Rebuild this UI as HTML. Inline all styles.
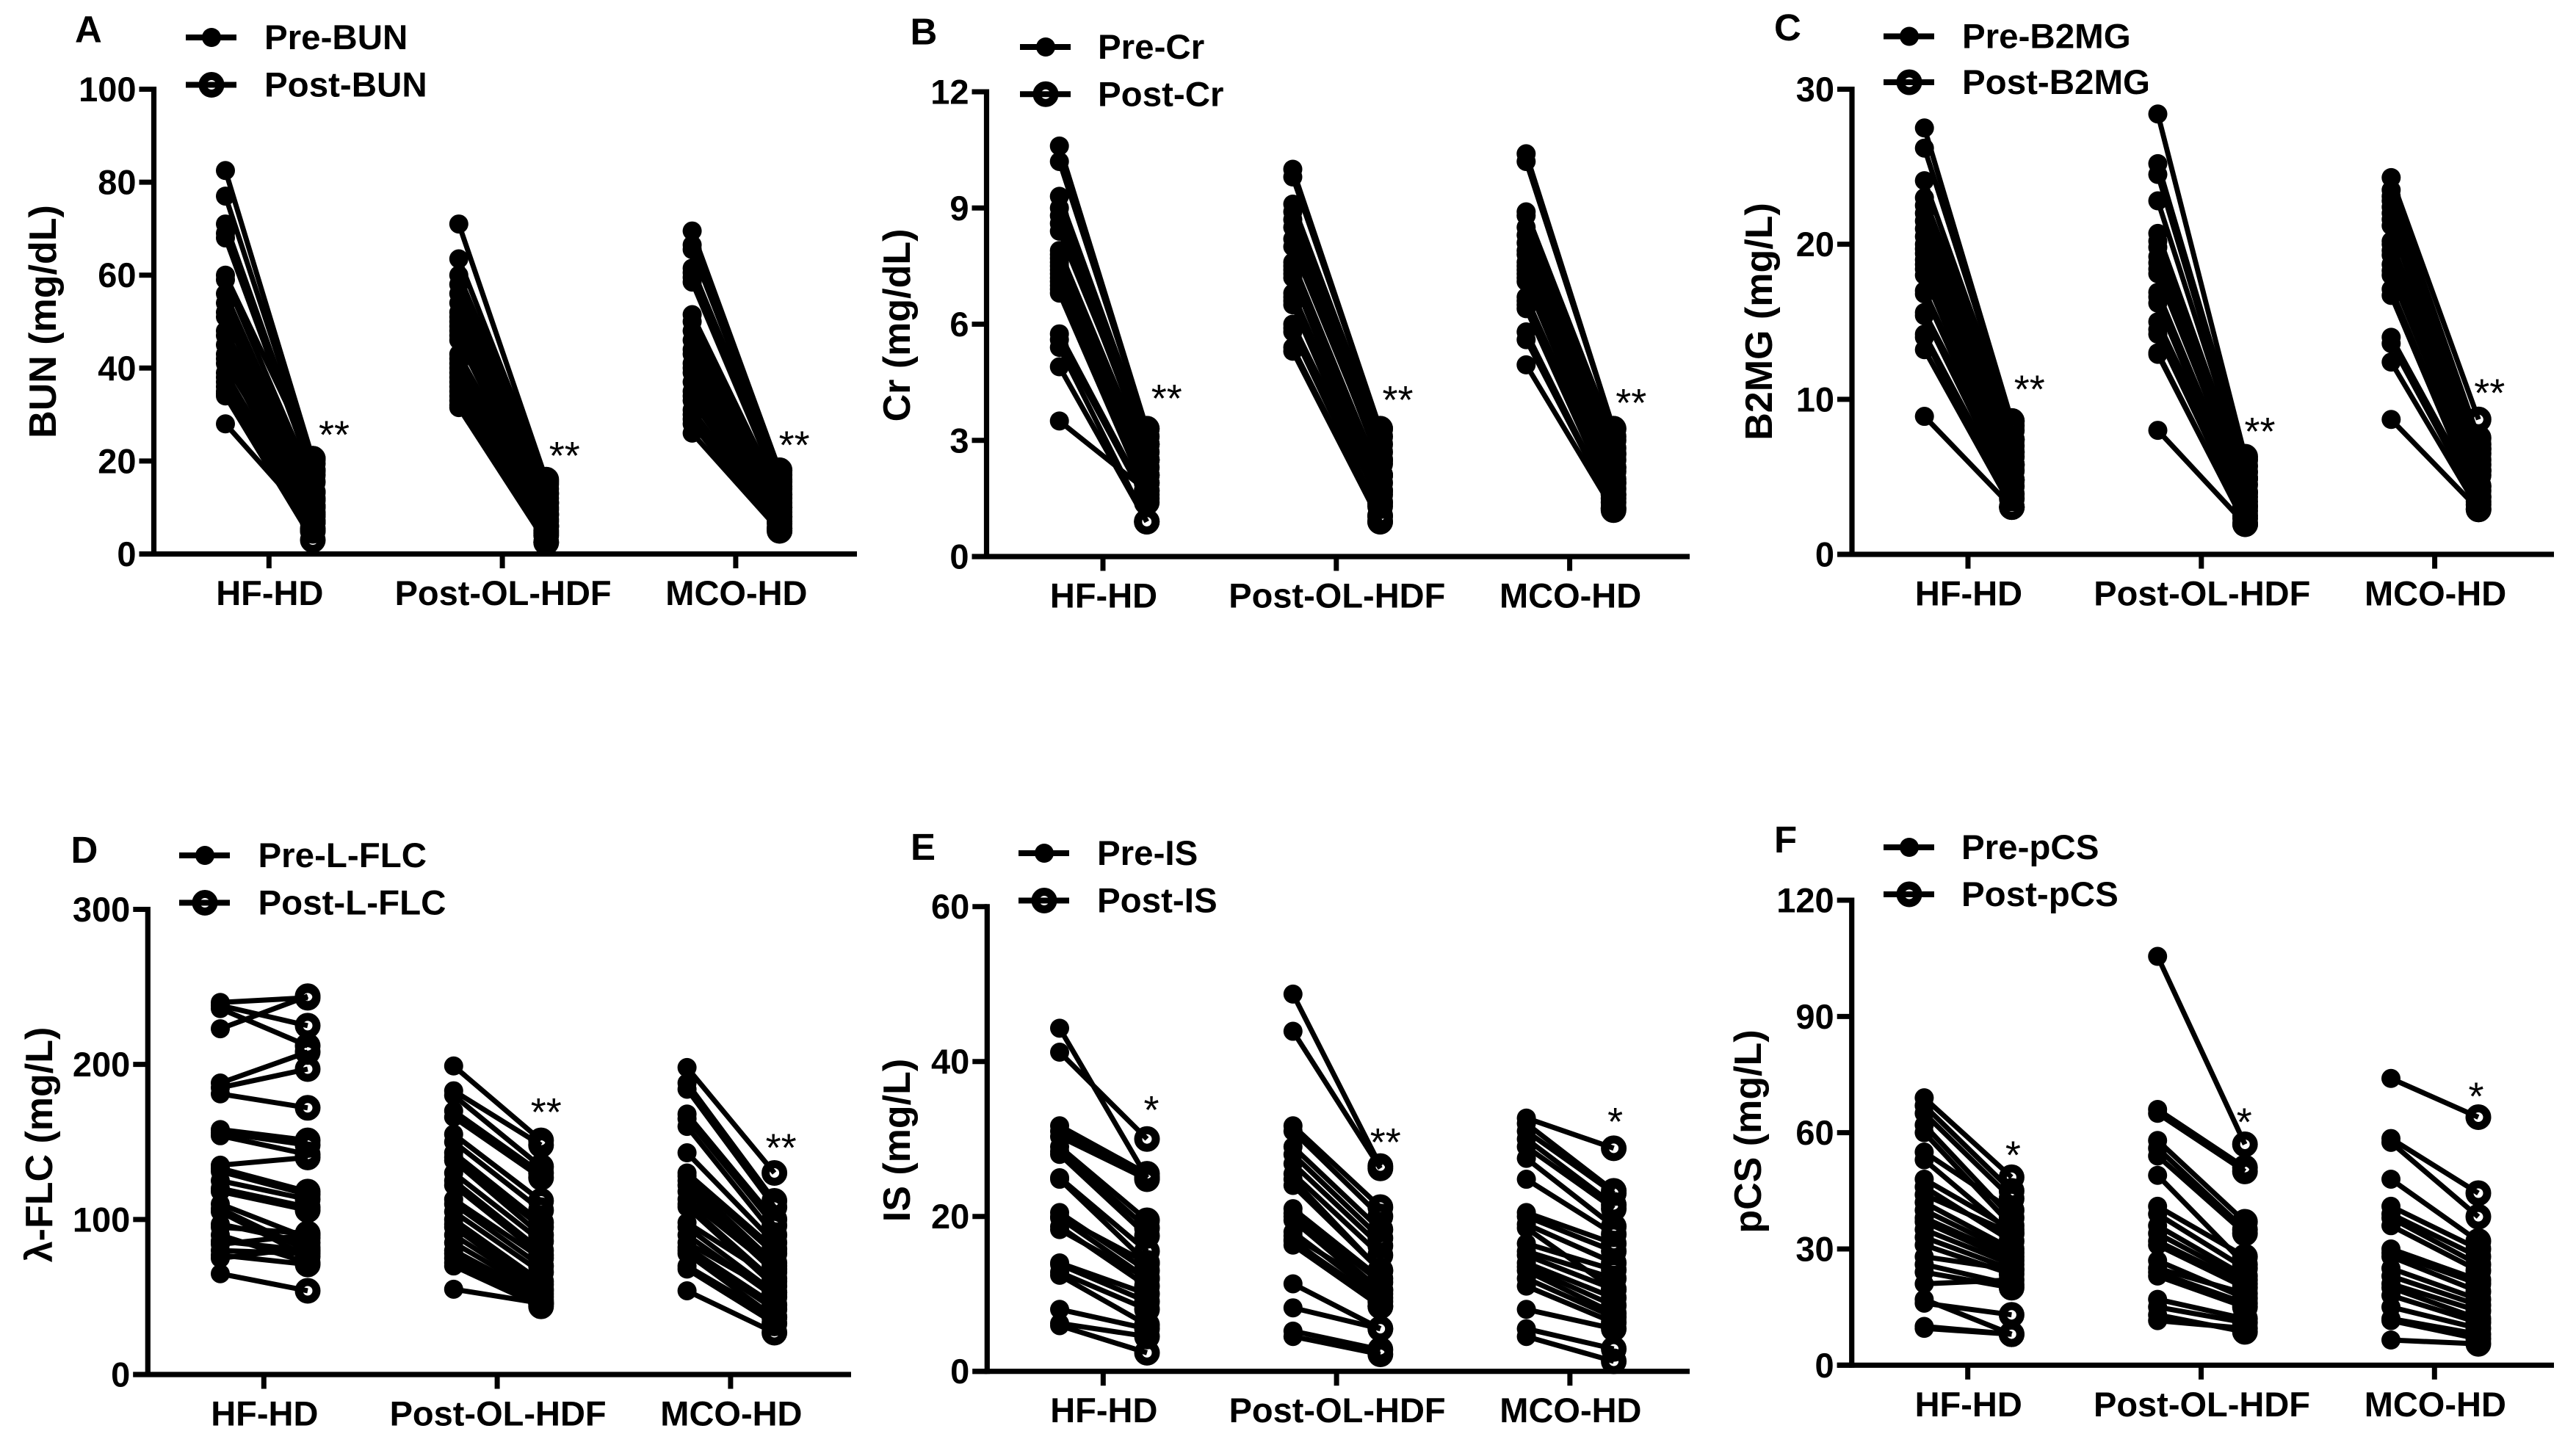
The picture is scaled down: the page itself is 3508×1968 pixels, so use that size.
<!DOCTYPE html>
<html lang="en">
<head>
<meta charset="utf-8">
<title>Pre and post dialysis solute levels</title>
<style>
html,body{margin:0;padding:0;background:#fff;}
#figure{display:block;width:3508px;height:1968px;background:#fff;}
text{font-family:"Liberation Sans",sans-serif;fill:#000;}
</style>
</head>
<body>
<svg id="figure" xmlns="http://www.w3.org/2000/svg" width="3508" height="1968" viewBox="0 0 3508 1968"></svg>
<script>
const categories = ['HF-HD', 'Post-OL-HDF', 'MCO-HD'];

const bunTicks = [0, 20, 40, 60, 80, 100];
const bunPreHF = [82.5,77,71,69,68,60,59,56,54,52,51,48,47,45,43,42,41,39,38,37,36,35,34.5,34,28];
const bunPostHF = [20.5,19.5,18,18,17,20.5,15.5,13.3,13.3,12,10.2,11.5,10.2,9,8.5,6.9,10.2,6.9,5.5,5,6.9,8,5,3,6.9];
const bunPreOL = [71,63.5,60,58,56,54,52,51,50,49,48,47,46,43,42,41,40,39,38,37,36,35,34,33,32,31.5];
const bunPostOL = [16,15.5,15,14,13,13,12,11,11,10,11,9.5,8.5,8.5,7.5,8.5,7,6,6,5,6,4.5,6,4,2.5,2.5];
const bunPreMCO = [69.5,66.5,65.5,61.5,60.5,59.5,58.5,51.5,50,48,46,44,43,41,40,39,37,35,34,33,31,30,29,28,26];
const bunPostMCO = [18,18,17,16,15.5,14.5,14,12.8,12.8,12,11,10,10,9,10,8,8,7,8,6.5,5.5,5.5,5.5,5,5];
const bunStars = ['**', '**', '**'];

const crTicks = [0, 3, 6, 9, 12];
const crPreHF = [10.6,10.2,9.3,9.0,8.8,8.6,8.4,7.9,7.8,7.7,7.6,7.5,7.4,7.3,7.2,7.1,7.0,6.9,6.8,5.75,5.6,5.4,4.9,3.5];
const crPostHF = [3.3,3.3,3.1,2.9,2.9,2.7,2.9,2.5,2.5,2.3,2.5,2.5,2.1,2.1,1.9,2.1,1.9,1.7,1.6,1.5,1.4,0.9,0.9,1.7];
const crPreOL = [10,9.8,9.1,8.9,8.7,8.5,8.2,8.0,7.6,7.5,7.4,7.3,7.2,6.8,6.7,6.6,6.5,6.0,5.9,5.8,5.4,5.3];
const crPostOL = [3.3,3.3,3.1,2.9,2.7,2.5,2.4,2.5,2.1,2.1,1.9,2.1,1.7,1.6,1.7,1.4,1.3,1.4,1.05,1.05,0.9,0.9];
const crPreMCO = [10.4,10.2,8.9,8.8,8.5,8.3,8.1,7.9,7.8,7.6,7.5,7.4,7.3,7.2,7.1,6.7,6.6,6.5,6.4,5.8,5.6,4.95];
const crPostMCO = [3.3,3.3,3.1,3.0,2.65,2.8,2.65,2.5,2.3,2.2,2.3,1.9,2.0,1.9,1.75,1.6,1.5,1.6,1.4,1.25,1.25,1.2];
const crStars = ['**', '**', '**'];

const b2mgTicks = [0, 10, 20, 30];
const b2mgPreHF = [27.5,26.2,24.1,23,22.5,22,21.5,21,20.5,20,19.7,19.4,19,18.7,18.4,18,17,16.8,15.6,15.4,14.2,14,13.2,8.9];
const b2mgPostHF = [8.6,8.6,8.3,8,7.4,7.4,7,7.4,6.6,6.3,6.6,5.8,5.8,5.4,5.8,4.8,4.8,4.4,4.8,3.9,3.6,3.05,3.05,3.05];
const b2mgPreOL = [28.4,25.2,24.5,22.8,20.7,20.2,19.8,19.2,18.8,18.4,18.1,16.9,16.6,16.2,15,14.5,14.2,13,12.9,8];
const b2mgPostOL = [6.3,6.1,5.7,5.3,4.9,4.9,4.5,4.9,4,3.7,4,3.4,3.1,2.8,3.1,2.5,2.3,1.95,1.95,1.95];
const b2mgPreMCO = [24.3,23.5,23.1,22.8,22.4,22,21.6,21.2,20.2,20,19.6,19.3,18.7,18.3,18,17.1,16.7,14,13.6,12.4,8.7];
const b2mgPostMCO = [8.7,7.5,7.1,6.8,6.5,6.8,6.1,5.8,5.4,5.4,5.1,5.4,4.4,4.1,4.4,3.7,3.4,3.7,3.2,2.9,2.9];
const b2mgStars = ['**', '**', '**'];

const flcTicks = [0, 100, 200, 300];
const flcPreHF = [240,238,236,223,188,185,181,158,156,154,135,133,131,125,120,118,110,107,105,97,95,90,86,84,80,77,75,65];
const flcPostHF = [243,225,212,244,208,197,172,151,148,142,140,118,116,113,108,106,88,80,76,85,91,72,80,90,78,71,82,54];
const flcPreOL = [199,183,180,170,166,155,150,143,140,138,130,125,122,113,110,105,100,97,95,90,85,80,78,75,72,70,55];
const flcPostOL = [151,148,134,130,127,112,106,98,95,90,86,80,77,75,70,66,60,58,55,54,52,50,48,46,46,44,46];
const flcPreMCO = [198,188,184,168,165,160,143,130,128,125,122,118,113,110,108,98,95,90,85,82,80,78,70,68,54];
const flcPostMCO = [130,112,108,100,96,90,85,81,78,72,70,66,68,60,57,62,53,50,53,45,42,37,37,33,27];
const flcStars = ['', '**', '**'];

const isTicks = [0, 20, 40, 60];
const isPreHF = [44.3,41.2,31.7,31,30.3,29,28.4,28,25,24.8,20.5,20,19.8,18.7,18.3,14,13.8,12.8,12.4,8,6.2,5.9];
const isPostHF = [25,30,25.5,25,24.8,19.5,18.5,17.5,15.5,14,13,14,12,11,12,10,9,8,6,5.5,4.5,2.4];
const isPreOL = [48.7,43.9,31.7,31,29,28,26.8,25.5,24.8,24,21,20.4,20,19.5,18,17.5,17,16.8,16.3,11.3,8.2,5.2,4.5];
const isPostOL = [26.5,26.2,21.2,20,18.3,17.2,16.2,15,13,13,12,11.5,10.5,10,9.5,10.5,8.4,9,8.4,5.5,5.5,2.8,2.2];
const isPreMCO = [32.7,32,31,30,29,27.5,24.8,20.5,20,19,18.5,16.5,15.5,15,14,13.5,13,12,11,8,5.5,4.5];
const isPostMCO = [28.8,23.3,23,21.5,21,18.7,17.7,16.5,15.5,14,10.6,13.1,12,10.6,9.5,8.5,7.5,7,6.3,5.5,2.9,1.3];
const isStars = ['*', '**', '*'];

const pcsTicks = [0, 30, 60, 90, 120];
const pcsPreHF = [69,67,65,62,60,55,53,48,46,44,42,40,38,37,35,33,31,28,26,24,21,17,16,10,9.5];
const pcsPostHF = [48.5,45,43,38,36,40,34,35,32,34,30,29,28,27,26,24.7,23.5,24.7,20.8,20,22,8,13,8,8];
const pcsPreOL = [105.5,66,65,58,56,54,49,41,39,36,34,32,31,27,25,24,23,17,15,13,11.5];
const pcsPostOL = [57,51,50,37,35,34,26,28,25,23,22,21,20,17.3,18.5,16,15,12,11,8.6,9.5];
const pcsPreMCO = [74,58.5,57.5,48,41,39,38,36,30,29,28,25,23,21,20,18,15,12,11.5,6.5];
const pcsPostMCO = [64,44.4,38.3,32,30,28,26,24.4,22,21,19,17,15.5,14,12,11,9.5,8,6.8,5.5];
const pcsStars = ['*', '*', '*'];

const panels = [
  {id:'bun', letter:'A', title:'BUN (mg/dL)', pre:'Pre-BUN', post:'Post-BUN', ticks:bunTicks, stars:bunStars,
   preData:[bunPreHF,bunPreOL,bunPreMCO], postData:[bunPostHF,bunPostOL,bunPostMCO],
   g:{axisX:209.5, top:121.5, bottom:754.5, right:1167, cat0:366.3, lx:253, ly1:51, ly2:115.5, tx:360, titleX:76, titleY:438, letterX:102, letterY:57.5, starDx:[0,-4,-9], starDy:[0,0,-2]}},
  {id:'cr', letter:'B', title:'Cr (mg/dL)', pre:'Pre-Cr', post:'Post-Cr', ticks:crTicks, stars:crStars,
   preData:[crPreHF,crPreOL,crPreMCO], postData:[crPostHF,crPostOL,crPostMCO],
   g:{axisX:1343.5, top:125, bottom:758, right:2301, cat0:1502, lx:1389, ly1:64, ly2:128.3, tx:1495, titleX:1239, titleY:443, letterX:1239.5, letterY:60.7, starDx:[-2,-5,-5], starDy:[-9,-7,-3]}},
  {id:'b2mg', letter:'C', title:'B2MG (mg/L)', pre:'Pre-B2MG', post:'Post-B2MG', ticks:b2mgTicks, stars:b2mgStars,
   preData:[b2mgPreHF,b2mgPreOL,b2mgPreMCO], postData:[b2mgPostHF,b2mgPostOL,b2mgPostMCO],
   g:{axisX:2522, top:121.5, bottom:755, right:3478, cat0:2680, lx:2565, ly1:49.5, ly2:112, tx:2672, titleX:2413, titleY:438, letterX:2416, letterY:55, starDx:[-5,-9,-14], starDy:[-11,-2,-4]}},
  {id:'flc', letter:'D', title:'\u03BB-FLC (mg/L)', pre:'Pre-L-FLC', post:'Post-L-FLC', ticks:flcTicks, stars:flcStars,
   preData:[flcPreHF,flcPreOL,flcPreMCO], postData:[flcPostHF,flcPostOL,flcPostMCO],
   g:{axisX:201.3, top:1238.5, bottom:1872, right:1159, cat0:359.3, lx:244, ly1:1165, ly2:1229.5, tx:351.5, titleX:71, titleY:1559, letterX:96.5, letterY:1175, starDx:[0,-22,-20], starDy:[0,-6,-2]}},
  {id:'is', letter:'E', title:'IS (mg/L)', pre:'Pre-IS', post:'Post-IS', ticks:isTicks, stars:isStars,
   preData:[isPreHF,isPreOL,isPreMCO], postData:[isPostHF,isPostOL,isPostMCO],
   g:{axisX:1344.3, top:1234.7, bottom:1867.7, right:2301, cat0:1502.3, lx:1387, ly1:1162, ly2:1226.5, tx:1494, titleX:1239, titleY:1553, letterX:1240, letterY:1171, starDx:[0,-22,-4], starDy:[-7,0,-4]}},
  {id:'pcs', letter:'F', title:'pCS (mg/L)', pre:'Pre-pCS', post:'Post-pCS', ticks:pcsTicks, stars:pcsStars,
   preData:[pcsPreHF,pcsPreOL,pcsPreMCO], postData:[pcsPostHF,pcsPostOL,pcsPostMCO],
   g:{axisX:2521.7, top:1226, bottom:1859.3, right:3478, cat0:2679.7, lx:2565, ly1:1154, ly2:1218, tx:2671, titleX:2398, titleY:1541, letterX:2416, letterY:1161, starDx:[-4,-7,-9], starDy:[2,2,4]}}
];

const SVGNS = 'http://www.w3.org/2000/svg';
const root = document.getElementById('figure');

function add(parent, tag, attrs, name, txt) {
  const el = document.createElementNS(SVGNS, tag);
  for (const k in attrs) el.setAttribute(k, attrs[k]);
  
  
  if (txt !== undefined) el.textContent = txt;
  parent.appendChild(el);
  return el;
}

function drawPanel(p) {
  const g = p.g;
  const group = add(root, 'g', {}, 'panel-' + p.id);
  const maxV = p.ticks[p.ticks.length - 1];
  const yScale = v => g.bottom - (v / maxV) * (g.bottom - g.top);
  const catX = i => g.cat0 + i * 317.8;
  const preX = i => catX(i) - 59.3;
  const postX = i => catX(i) + 59.7;

  add(group, 'text', {x:g.letterX, y:g.letterY, 'font-size':51, 'font-weight':'bold'}, 'panel-letter-' + p.letter.toLowerCase(), p.letter);

  p.ticks.forEach(t => {
    add(group, 'line', {x1:g.axisX - 20, x2:g.axisX, y1:yScale(t), y2:yScale(t), stroke:'#000', 'stroke-width':7}, 'y-tick-' + t);
    add(group, 'text', {x:g.axisX - 24, y:yScale(t) + 16.5, 'font-size':47, 'font-weight':'bold', 'text-anchor':'end'}, 'y-tick-label-' + t, String(t));
  });
  add(group, 'line', {x1:g.axisX, x2:g.axisX, y1:g.top - 3.5, y2:g.bottom + 3.5, stroke:'#000', 'stroke-width':7.2}, 'y-axis-line');
  add(group, 'line', {x1:g.axisX - 20, x2:g.right, y1:g.bottom, y2:g.bottom, stroke:'#000', 'stroke-width':7.2}, 'x-axis-line');

  categories.forEach((c, i) => {
    add(group, 'line', {x1:catX(i), x2:catX(i), y1:g.bottom, y2:g.bottom + 19.5, stroke:'#000', 'stroke-width':7}, 'x-tick-' + c.toLowerCase());
    add(group, 'text', {x:catX(i) + 1, y:g.bottom + 69.5, 'font-size':47, 'font-weight':'bold', 'text-anchor':'middle'}, 'x-tick-label-' + c.toLowerCase(), c);
  });

  add(group, 'text', {x:g.titleX, y:g.titleY, 'font-size':52, 'font-weight':'bold', 'text-anchor':'middle', transform:'rotate(-90 ' + g.titleX + ' ' + g.titleY + ')'}, 'y-axis-title', p.title);

  const seriesGroup = add(group, 'g', {}, 'series-paired-points');
  categories.forEach((c, i) => {
    const pre = p.preData[i];
    const post = p.postData[i];
    pre.forEach((v, j) => {
      add(seriesGroup, 'line', {x1:preX(i), y1:yScale(v), x2:postX(i), y2:yScale(post[j]), stroke:'#000', 'stroke-width':7}, 'pair-line');
    });
    pre.forEach(v => {
      add(seriesGroup, 'circle', {cx:preX(i), cy:yScale(v), r:13, fill:'#000'}, 'pre-point');
    });
    post.forEach(v => {
      add(seriesGroup, 'circle', {cx:postX(i), cy:yScale(v), r:12, fill:'none', stroke:'#000', 'stroke-width':11}, 'post-point');
    });
    const mark = p.stars[i];
    if (mark) {
      const sy = yScale(Math.max(...post)) - 34 + g.starDy[i];
      const single = mark.length === 1;
      add(group, 'text', {x:(single ? postX(i) + 6 : postX(i) + 8) + g.starDx[i], y:sy + 20, 'font-size':54, 'text-anchor':single ? 'middle' : 'start'}, 'significance-mark', mark);
    }
  });

  const legend = add(group, 'g', {}, 'legend');
  const entries = [[p.pre, g.ly1, false], [p.post, g.ly2, true]];
  entries.forEach(e => {
    const item = add(legend, 'g', {}, 'legend-entry-' + e[0].toLowerCase());
    add(item, 'line', {x1:g.lx, x2:g.lx + 69, y1:e[1], y2:e[1], stroke:'#000', 'stroke-width':8}, 'legend-line');
    if (e[2]) {
      add(item, 'circle', {cx:g.lx + 35, cy:e[1], r:12, fill:'none', stroke:'#000', 'stroke-width':11}, 'legend-post-marker');
    } else {
      add(item, 'circle', {cx:g.lx + 35, cy:e[1], r:13, fill:'#000'}, 'legend-pre-marker');
    }
    add(item, 'text', {x:g.tx, y:e[1] + 16, 'font-size':47.5, 'font-weight':'bold'}, 'legend-label', e[0]);
  });
}

panels.forEach(drawPanel);
</script>
</body>
</html>
